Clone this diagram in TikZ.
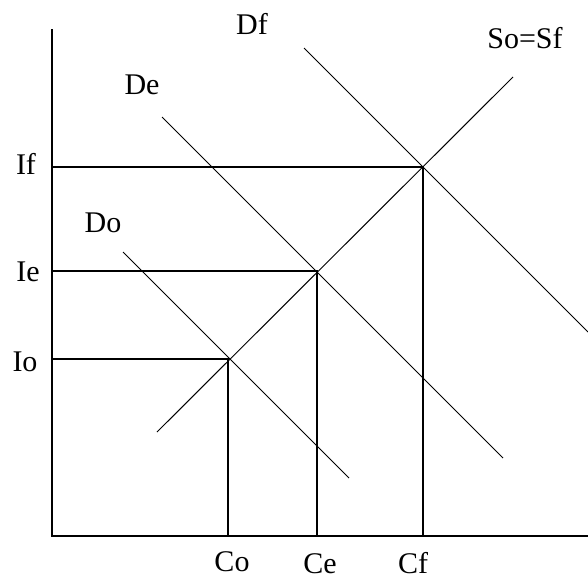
\documentclass[tikz,border=0pt]{standalone}
\usepackage{fontspec}
\setmainfont{Liberation Serif}
\usetikzlibrary{positioning}

\begin{document}
\begin{tikzpicture}[
        x=1pt, y=-1pt,
        axisline/.style={line width=1.6pt, line cap=rect},
        guideline/.style={line width=1.6pt},
        curveline/.style={line width=1pt},
        axislabel/.style={font=\fontsize{30}{30}\selectfont, inner sep=0pt, anchor=base},
        curvelabel/.style={font=\fontsize{30}{30}\selectfont, inner sep=0pt, anchor=base}
    ]
        \useasboundingbox (0,0) rectangle (588,579);

        % axes
        \coordinate (origin) at (52,536);
        \coordinate (ytop) at (52,30);
        \coordinate (xend) at (588,536);
        \draw[axisline] (ytop) -- (origin) -- (xend);

        % equilibrium points
        \coordinate (eqo) at (228,359);
        \coordinate (eqe) at (317,271);
        \coordinate (eqf) at (423,167);

        % curve ends
        \coordinate (sstart) at (157,432);
        \coordinate (send) at (513,77);
        \coordinate (dostart) at (123,252);
        \coordinate (doend) at (349,478);
        \coordinate (destart) at (162,117);
        \coordinate (deend) at (503,458);
        \coordinate (dfstart) at (304,48);
        \coordinate (dfend) at (588,332);

        % labels
        \node[axislabel] (io) at (25,371) {Io};
        \node[axislabel] (ie) at (28,281) {Ie};
        \node[axislabel] (if) at (26,174) {If};
        \node[axislabel] (co) at (232,571) {Co};
        \node[axislabel] (ce) at (320,573) {Ce};
        \node[axislabel] (cf) at (413,573) {Cf};
        \node[curvelabel] (dolabel) at (103,232) {Do};
        \node[curvelabel] (delabel) at (142,94) {De};
        \node[curvelabel] (dflabel) at (252,34) {Df};
        \node[curvelabel] (slabel) at (525,48) {So=Sf};

        % guides
        \draw[guideline] (origin |- eqo) -- (eqo) -- (eqo |- origin);
        \draw[guideline] (origin |- eqe) -- (eqe) -- (eqe |- origin);
        \draw[guideline] (origin |- eqf) -- (eqf) -- (eqf |- origin);

        % supply and demand
        \draw[curveline] (sstart) -- (send);
        \draw[curveline] (dostart) -- (doend);
        \draw[curveline] (destart) -- (deend);
        \draw[curveline] (dfstart) -- (dfend);
    \end{tikzpicture}
\end{document}
